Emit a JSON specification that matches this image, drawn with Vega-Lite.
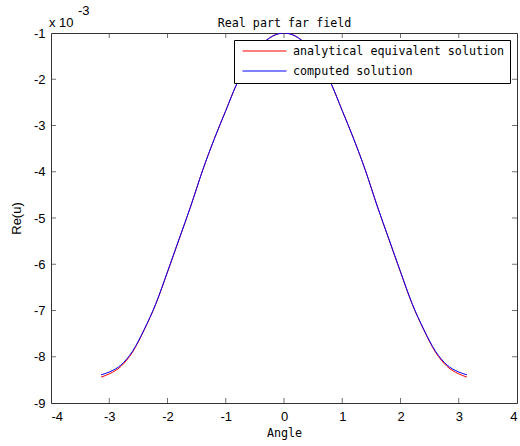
{
  "$schema": "https://vega.github.io/schema/vega-lite/v6.json",
  "width": 466,
  "height": 370,
  "autosize": {"type": "none"},
  "padding": {"left": 51, "top": 33, "right": 3, "bottom": 43},
  "background": "white",
  "config": {
    "view": {"stroke": "#333", "strokeWidth": 1},
    "axis": {
      "domain": false,
      "grid": false,
      "labelFont": "Liberation Sans",
      "labelFontSize": 13,
      "labelColor": "#000",
      "titleFont": "Liberation Sans",
      "titleFontSize": 13,
      "titleFontWeight": "normal",
      "titleColor": "#000"
    }
  },
  "resolve": {"axis": {"x": "independent", "y": "independent"}},
  "data": {
    "values": [
      {"angle": -3.14, "re_u": -8.44, "series": "analytical equivalent solution"},
      {"angle": -3.0, "re_u": -8.37, "series": "analytical equivalent solution"},
      {"angle": -2.8, "re_u": -8.21, "series": "analytical equivalent solution"},
      {"angle": -2.6, "re_u": -7.90, "series": "analytical equivalent solution"},
      {"angle": -2.4, "re_u": -7.42, "series": "analytical equivalent solution"},
      {"angle": -2.2, "re_u": -6.86, "series": "analytical equivalent solution"},
      {"angle": -2.0, "re_u": -6.17, "series": "analytical equivalent solution"},
      {"angle": -1.8, "re_u": -5.46, "series": "analytical equivalent solution"},
      {"angle": -1.6, "re_u": -4.74, "series": "analytical equivalent solution"},
      {"angle": -1.4, "re_u": -3.98, "series": "analytical equivalent solution"},
      {"angle": -1.2, "re_u": -3.30, "series": "analytical equivalent solution"},
      {"angle": -1.0, "re_u": -2.68, "series": "analytical equivalent solution"},
      {"angle": -0.8, "re_u": -2.07, "series": "analytical equivalent solution"},
      {"angle": -0.6, "re_u": -1.60, "series": "analytical equivalent solution"},
      {"angle": -0.4, "re_u": -1.27, "series": "analytical equivalent solution"},
      {"angle": -0.2, "re_u": -1.07, "series": "analytical equivalent solution"},
      {"angle": 0.0, "re_u": -1.00, "series": "analytical equivalent solution"},
      {"angle": 0.2, "re_u": -1.07, "series": "analytical equivalent solution"},
      {"angle": 0.4, "re_u": -1.27, "series": "analytical equivalent solution"},
      {"angle": 0.6, "re_u": -1.60, "series": "analytical equivalent solution"},
      {"angle": 0.8, "re_u": -2.07, "series": "analytical equivalent solution"},
      {"angle": 1.0, "re_u": -2.68, "series": "analytical equivalent solution"},
      {"angle": 1.2, "re_u": -3.30, "series": "analytical equivalent solution"},
      {"angle": 1.4, "re_u": -3.98, "series": "analytical equivalent solution"},
      {"angle": 1.6, "re_u": -4.74, "series": "analytical equivalent solution"},
      {"angle": 1.8, "re_u": -5.46, "series": "analytical equivalent solution"},
      {"angle": 2.0, "re_u": -6.17, "series": "analytical equivalent solution"},
      {"angle": 2.2, "re_u": -6.86, "series": "analytical equivalent solution"},
      {"angle": 2.4, "re_u": -7.42, "series": "analytical equivalent solution"},
      {"angle": 2.6, "re_u": -7.90, "series": "analytical equivalent solution"},
      {"angle": 2.8, "re_u": -8.21, "series": "analytical equivalent solution"},
      {"angle": 3.0, "re_u": -8.37, "series": "analytical equivalent solution"},
      {"angle": 3.14, "re_u": -8.44, "series": "analytical equivalent solution"},
      {"angle": -3.14, "re_u": -8.39, "series": "computed solution"},
      {"angle": -3.0, "re_u": -8.33, "series": "computed solution"},
      {"angle": -2.8, "re_u": -8.18, "series": "computed solution"},
      {"angle": -2.6, "re_u": -7.88, "series": "computed solution"},
      {"angle": -2.4, "re_u": -7.41, "series": "computed solution"},
      {"angle": -2.2, "re_u": -6.85, "series": "computed solution"},
      {"angle": -2.0, "re_u": -6.16, "series": "computed solution"},
      {"angle": -1.8, "re_u": -5.45, "series": "computed solution"},
      {"angle": -1.6, "re_u": -4.74, "series": "computed solution"},
      {"angle": -1.4, "re_u": -3.98, "series": "computed solution"},
      {"angle": -1.2, "re_u": -3.30, "series": "computed solution"},
      {"angle": -1.0, "re_u": -2.68, "series": "computed solution"},
      {"angle": -0.8, "re_u": -2.07, "series": "computed solution"},
      {"angle": -0.6, "re_u": -1.60, "series": "computed solution"},
      {"angle": -0.4, "re_u": -1.27, "series": "computed solution"},
      {"angle": -0.2, "re_u": -1.07, "series": "computed solution"},
      {"angle": 0.0, "re_u": -1.00, "series": "computed solution"},
      {"angle": 0.2, "re_u": -1.07, "series": "computed solution"},
      {"angle": 0.4, "re_u": -1.27, "series": "computed solution"},
      {"angle": 0.6, "re_u": -1.60, "series": "computed solution"},
      {"angle": 0.8, "re_u": -2.07, "series": "computed solution"},
      {"angle": 1.0, "re_u": -2.68, "series": "computed solution"},
      {"angle": 1.2, "re_u": -3.30, "series": "computed solution"},
      {"angle": 1.4, "re_u": -3.98, "series": "computed solution"},
      {"angle": 1.6, "re_u": -4.74, "series": "computed solution"},
      {"angle": 1.8, "re_u": -5.45, "series": "computed solution"},
      {"angle": 2.0, "re_u": -6.16, "series": "computed solution"},
      {"angle": 2.2, "re_u": -6.85, "series": "computed solution"},
      {"angle": 2.4, "re_u": -7.41, "series": "computed solution"},
      {"angle": 2.6, "re_u": -7.88, "series": "computed solution"},
      {"angle": 2.8, "re_u": -8.18, "series": "computed solution"},
      {"angle": 3.0, "re_u": -8.33, "series": "computed solution"},
      {"angle": 3.14, "re_u": -8.39, "series": "computed solution"}
    ]
  },
  "layer": [
    {
      "mark": {"type": "line", "strokeWidth": 1, "interpolate": "monotone", "clip": true},
      "encoding": {
        "x": {
          "field": "angle", "type": "quantitative",
          "scale": {"domain": [-4, 4], "nice": false, "zero": false},
          "axis": {"orient": "bottom", "ticks": false, "values": [-4, -3, -2, -1, 0, 1, 2, 3, 4], "title": "Angle", "titleFont": "DejaVu Sans Mono", "titleFontSize": 11.7, "labelPadding": 7, "titlePadding": 4, "labelExpr": "'' + datum.value"}
        },
        "y": {
          "field": "re_u", "type": "quantitative",
          "scale": {"domain": [-9, -1], "nice": false, "zero": false},
          "axis": {"orient": "left", "ticks": false, "values": [-9, -8, -7, -6, -5, -4, -3, -2, -1], "title": "Re(u)", "labelPadding": 6, "titlePadding": 10, "labelExpr": "'' + datum.value"}
        },
        "color": {
          "field": "series", "type": "nominal",
          "scale": {"domain": ["analytical equivalent solution", "computed solution"], "range": ["#ff0000", "#0000ff"]},
          "legend": {
            "orient": "none", "legendX": 183, "legendY": 7, "title": null,
            "symbolType": "stroke", "symbolSize": 1936, "symbolStrokeWidth": 1,
            "clipHeight": 12, "rowPadding": 7, "padding": 5, "symbolOffset": 3,
            "labelFont": "DejaVu Sans Mono", "labelFontSize": 11.7, "labelColor": "#000", "labelOffset": 6, "labelLimit": 400,
            "strokeColor": "#000", "fillColor": "#fff"
          }
        }
      }
    },
    {
      "data": {"values": [{"t": -3}, {"t": -2}, {"t": -1}, {"t": 0}, {"t": 1}, {"t": 2}, {"t": 3}]},
      "mark": {"type": "tick", "orient": "vertical", "size": 10, "thickness": 1, "color": "#333", "clip": true},
      "encoding": {"x": {"field": "t", "type": "quantitative", "axis": null}, "y": {"datum": -9, "axis": null}}
    },
    {
      "data": {"values": [{"t": -3}, {"t": -2}, {"t": -1}, {"t": 0}, {"t": 1}, {"t": 2}, {"t": 3}]},
      "mark": {"type": "tick", "orient": "vertical", "size": 10, "thickness": 1, "color": "#333", "clip": true},
      "encoding": {"x": {"field": "t", "type": "quantitative", "axis": null}, "y": {"datum": -1, "axis": null}}
    },
    {
      "data": {"values": [{"t": -8}, {"t": -7}, {"t": -6}, {"t": -5}, {"t": -4}, {"t": -3}, {"t": -2}]},
      "mark": {"type": "tick", "orient": "horizontal", "size": 10, "thickness": 1, "color": "#333", "clip": true},
      "encoding": {"y": {"field": "t", "type": "quantitative", "axis": null}, "x": {"datum": -4, "axis": null}}
    },
    {
      "data": {"values": [{"t": -8}, {"t": -7}, {"t": -6}, {"t": -5}, {"t": -4}, {"t": -3}, {"t": -2}]},
      "mark": {"type": "tick", "orient": "horizontal", "size": 10, "thickness": 1, "color": "#333", "clip": true},
      "encoding": {"y": {"field": "t", "type": "quantitative", "axis": null}, "x": {"datum": 4, "axis": null}}
    },
    {
      "data": {"values": [{"label": "x 10"}]},
      "mark": {"type": "text", "align": "left", "baseline": "middle", "dx": -2, "dy": -10, "font": "Liberation Sans", "fontSize": 13, "color": "#000"},
      "encoding": {
        "x": {"datum": -4, "axis": {"orient": "top", "ticks": false, "labels": false, "title": "Real part far field", "titleFont": "DejaVu Sans Mono", "titleFontSize": 11.7, "titlePadding": 5}},
        "y": {"datum": -1, "axis": null},
        "text": {"field": "label"}
      }
    },
    {
      "data": {"values": [{"label": "-3"}]},
      "mark": {"type": "text", "align": "left", "baseline": "middle", "dx": 27, "dy": -22, "font": "Liberation Sans", "fontSize": 13, "color": "#000"},
      "encoding": {"x": {"datum": -4, "axis": null}, "y": {"datum": -1, "axis": null}, "text": {"field": "label"}}
    }
  ]
}
